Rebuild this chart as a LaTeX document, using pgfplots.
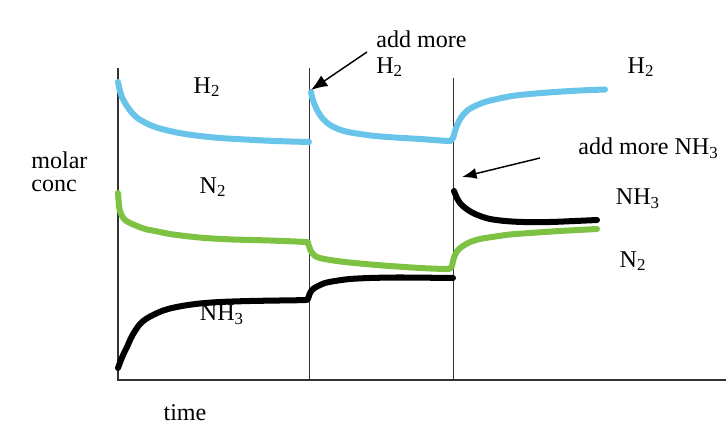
\documentclass[border=0pt]{standalone}
\usepackage{pgfplots}
\pgfplotsset{compat=1.18}
\usepackage{fontspec}
\setmainfont{Liberation Serif}
\usetikzlibrary{arrows.meta}
\definecolor{hblue}{RGB}{104,196,232}
\definecolor{ngreen}{RGB}{125,194,66}
\newcommand{\lf}{\fontsize{13.2}{15.5}\selectfont}
\begin{document}
\begin{tikzpicture}[font=\lf]
\useasboundingbox (0,0) rectangle (14cm,8.311cm);
\begin{axis}[
  scale only axis, width=14cm, height=8.311cm,
  xmin=0, xmax=726, ymin=0, ymax=431, y dir=reverse,
  hide axis, clip=false,
  curve/.style={line width=3.3pt, smooth, line cap=round, line join=round}
]
% axes
\draw[line width=0.8pt, black!80] (axis cs:118,68) -- (axis cs:118,380) -- (axis cs:726,380);
\draw[line width=0.55pt, black!80] (axis cs:309,68) -- (axis cs:309,380);
\draw[line width=0.55pt, black!80] (axis cs:453,78) -- (axis cs:453,380);
% H2
\addplot[hblue, curve] coordinates {
(118,82) (119,87) (120,91) (122,97) (125,103) (129,109) (133,114) (138,118.5) (144,122) (150,125) (160,128.5) (172,131.5) (185,134) (200,136) (220,138) (245,139.5) (275,141) (309,142)};
\addplot[hblue, curve] coordinates {
(311,92) (312,97) (314,103) (317,110) (320,115) (324,120) (330,125) (338,129) (348,132) (360,134) (375,136) (395,137.5) (420,139) (448,141) (451,140.5) (453,138) (454,135) (456,128) (459,121) (463,115) (468,110) (475,106) (485,102) (497,99) (512,96) (530,94) (555,92) (580,90.5) (605,89.5)};
% N2
\addplot[ngreen, curve] coordinates {
(118,193) (118.5,200) (119,206) (120,211) (122,216) (125,220) (130,223) (137,226) (145,229) (155,231) (170,234) (185,236) (205,238) (233,239.5) (270,240.5) (305,242) (308,243.5) (310,249) (312,253) (315,256) (320,258) (330,260) (345,262) (365,264) (390,266) (420,268) (445,269) (450,268.5) (452,266) (453,261) (455,255) (458,250) (463,246) (470,242) (480,239) (492,237) (510,234.5) (530,233) (560,231) (597,229)};
% NH3
\addplot[black, curve] coordinates {
(118,368) (121,360) (124,353) (127,347) (131,338) (135,331) (140,324) (146,319) (153,315) (162,311) (172,308) (185,305.5) (200,303.5) (220,302) (250,301) (280,300.5) (305,300) (308,298.5) (310,293) (313,289) (318,286) (325,283) (335,281) (350,279) (370,278) (400,277.5) (453,278)};
\addplot[black, curve] coordinates {
(454,191) (456,196) (458,200) (460,203) (464,207) (468,210) (473,213) (480,216) (490,219) (505,221) (523,222) (550,222) (575,221) (597,220)};
% arrows
\draw[-{Latex[length=9pt,width=7pt]}, line width=0.8pt] (axis cs:367,52) -- (axis cs:311,90);
\draw[-{Latex[length=8pt,width=6pt]}, line width=0.8pt] (axis cs:540,158) -- (axis cs:462,177);
% labels
\node at (axis cs:207,87) {H\textsubscript{2}};
\node at (axis cs:213,187) {N\textsubscript{2}};
\node at (axis cs:222,315) {NH\textsubscript{3}};
\node[anchor=west, align=left, inner sep=0pt, font=\fontsize{13.2}{13.8}\selectfont] at (axis cs:376,54) {add more\\H\textsubscript{2}};
\node at (axis cs:641,67) {H\textsubscript{2}};
\node[anchor=west, inner sep=0pt] at (axis cs:578,148) {add more NH\textsubscript{3}};
\node at (axis cs:638,199) {NH\textsubscript{3}};
\node at (axis cs:633,261) {N\textsubscript{2}};
\node[anchor=west, align=left, inner sep=0pt, font=\fontsize{13.2}{12.6}\selectfont] at (axis cs:31,172) {molar\\conc};
\node at (axis cs:185,413) {time};
\end{axis}
\end{tikzpicture}
\end{document}
